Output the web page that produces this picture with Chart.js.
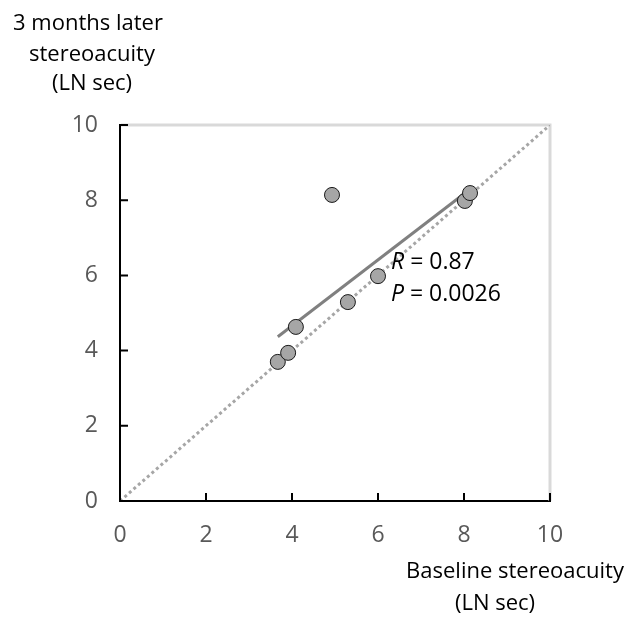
<!DOCTYPE html>
<html>
<head>
<meta charset="utf-8">
<script src="https://cdn.jsdelivr.net/npm/chart.js@4"></script>
<style>
  html, body { margin: 0; padding: 0; background: #fff; }
  #wrap { width: 638px; height: 618px; position: relative; }
</style>
</head>
<body>
<div id="wrap"><canvas id="stereoChart" width="638" height="618"></canvas></div>
<script>
// data
const baseline = [3.67, 3.91, 4.09, 4.93, 5.3, 6.0, 8.02, 8.14];
const later = [3.70, 3.94, 4.63, 8.14, 5.29, 5.98, 7.98, 8.19];
const fitX = [3.67, 8.14];
const fitY = [4.37, 8.29];
const identityX = [0, 10];
const identityY = [0, 10];
const tickValues = [0, 2, 4, 6, 8, 10];
const yTitle = ['3 months later', 'stereoacuity', '(LN sec)'];
const xTitle = ['Baseline stereoacuity', '(LN sec)'];
const statR = '0.87';
const statP = '0.0026';

const FONT = '"Open Sans", "Liberation Sans", sans-serif';

const toPoints = (xs, ys) => xs.map((x, i) => ({ x: x, y: ys[i] }));

// light grey frame on top and right, inward black ticks, titles and stats text
const decorPlugin = {
  id: 'decor',
  beforeDatasetsDraw(chart) {
    const { ctx, chartArea: a } = chart;
    ctx.save();
    ctx.strokeStyle = '#d9d9d9';
    ctx.lineWidth = 3;
    ctx.beginPath();
    ctx.moveTo(a.left + 1, a.top);
    ctx.lineTo(a.right, a.top);
    ctx.lineTo(a.right, a.bottom);
    ctx.stroke();
    ctx.restore();
  },
  afterDraw(chart) {
    const { ctx, chartArea: a, scales } = chart;
    ctx.save();
    ctx.strokeStyle = '#000';
    ctx.lineWidth = 2;
    tickValues.forEach(v => {
      const px = scales.x.getPixelForValue(v);
      const py = scales.y.getPixelForValue(v);
      ctx.beginPath();
      ctx.moveTo(px, a.bottom);
      ctx.lineTo(px, a.bottom - 8);
      ctx.moveTo(a.left, py);
      ctx.lineTo(a.left + 8, py);
      ctx.stroke();
    });

    ctx.fillStyle = '#000';
    ctx.textBaseline = 'middle';
    ctx.textAlign = 'center';
    ctx.font = '22px ' + FONT;
    const yCenters = [88, 92, 92];
    const yRows = [24, 55, 84];
    yTitle.forEach((t, i) => ctx.fillText(t, yCenters[i], yRows[i]));
    const xCenters = [515, 495];
    const xRows = [572, 604];
    xTitle.forEach((t, i) => ctx.fillText(t, xCenters[i], xRows[i]));

    // R and P values
    ctx.textAlign = 'left';
    const drawStat = (letter, value, x, y) => {
      ctx.font = 'italic 23px ' + FONT;
      ctx.fillText(letter, x, y);
      const w = ctx.measureText(letter).width;
      ctx.font = '23px ' + FONT;
      ctx.fillText(' = ' + value, x + w, y);
    };
    drawStat('R', statR, 391, 262);
    drawStat('P', statP, 391, 294);
    ctx.restore();
  }
};

new Chart(document.getElementById('stereoChart'), {
  type: 'scatter',
  data: {
    datasets: [
      {
        label: 'points',
        data: toPoints(baseline, later),
        backgroundColor: '#a6a6a6',
        borderColor: '#1a1a1a',
        borderWidth: 1,
        pointRadius: 7.5,
        order: 0
      },
      {
        type: 'line',
        label: 'fit',
        data: toPoints(fitX, fitY),
        borderColor: '#808080',
        borderWidth: 3,
        pointRadius: 0,
        fill: false,
        order: 1
      },
      {
        type: 'line',
        label: 'identity',
        data: toPoints(identityX, identityY),
        borderColor: '#a6a6a6',
        borderWidth: 3,
        borderDash: [3, 3],
        pointRadius: 0,
        fill: false,
        order: 2
      }
    ]
  },
  options: {
    responsive: false,
    animation: false,
    layout: { padding: { left: 0, top: 125, right: 88, bottom: 0 } },
    plugins: { legend: { display: false }, tooltip: { enabled: false } },
    scales: {
      x: {
        type: 'linear',
        min: 0,
        max: 10,
        afterFit: s => { s.height = 117; },
        afterBuildTicks: s => { s.ticks = tickValues.map(v => ({ value: v })); },
        grid: { display: false, drawTicks: false },
        border: { display: true, color: '#000', width: 2 },
        ticks: { color: '#595959', font: { size: 23, family: FONT }, padding: 21 }
      },
      y: {
        type: 'linear',
        min: 0,
        max: 10,
        afterFit: s => { s.width = 120; },
        afterBuildTicks: s => { s.ticks = tickValues.map(v => ({ value: v })); },
        grid: { display: false, drawTicks: false },
        border: { display: true, color: '#000', width: 2 },
        ticks: { color: '#595959', font: { size: 23, family: FONT }, padding: 22 }
      }
    }
  },
  plugins: [decorPlugin]
});
</script>
</body>
</html>
